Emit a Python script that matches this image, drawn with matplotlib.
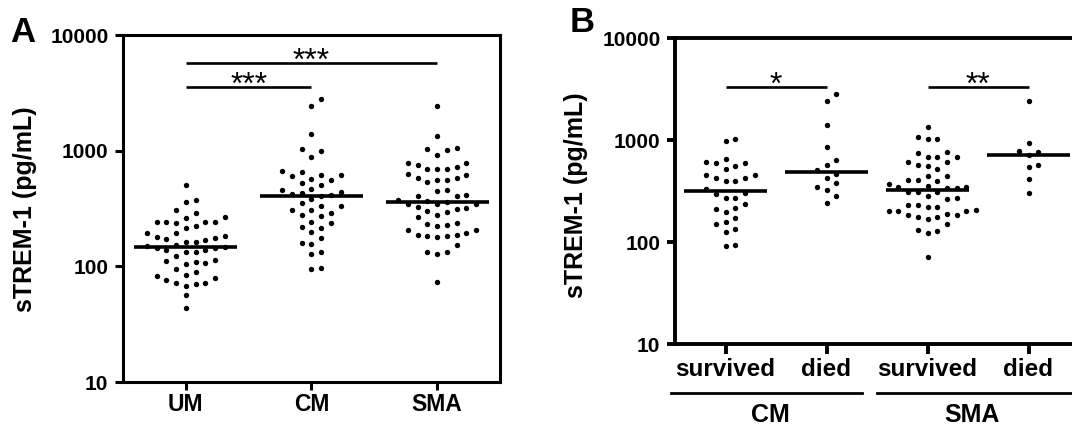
import numpy as np
import matplotlib.pyplot as plt
from matplotlib.ticker import NullLocator

plt.rcParams['font.family'] = ['Liberation Sans', 'DejaVu Sans']
plt.rcParams['font.weight'] = 'bold'

# %% data, sTREM-1 in pg/mL
groups_a = ['UM', 'CM', 'SMA']
um = [509, 373, 358, 290, 264, 267, 305, 242, 241, 225, 213, 237, 242, 242, 196,
      184, 176, 170, 174, 181, 194, 163, 149, 145, 139, 138, 144, 147, 153, 163,
      133, 133, 124, 107, 114, 110, 111, 104, 95, 89, 84, 79, 72, 68, 70, 72, 76,
      82, 56, 44]
cm = [2810, 2427, 1390, 995, 1030, 873, 651, 610, 574, 601, 618, 668, 563, 506,
      530, 467, 455, 431, 414, 385, 406, 426, 440, 333, 307, 278, 305, 331, 353,
      292, 275, 244, 237, 213, 219, 197, 175, 160, 155, 133, 127, 95.5, 97]
sma = [2443, 1336, 1065, 1023, 1037, 920, 790, 754, 696, 692, 696, 724, 775, 626,
       586, 563, 533, 563, 578, 618, 449, 455, 414, 409, 378, 358, 349, 349, 349,
       366, 404, 318, 301, 278, 294, 313, 326, 267, 237, 226, 222, 234, 208, 205,
       187, 182, 179, 182, 187, 193, 153, 132, 129, 133, 73]
sig_a = [(0, 1, 3566, '***'), (0, 2, 5757, '***')]

outcomes_b = ['survived', 'died', 'survived', 'died']
cm_survived = [991, 1023, 613, 595, 656, 520, 560, 599, 460, 430, 402, 401, 424,
               454, 333, 297, 270, 271, 302, 237, 211, 198, 215, 159, 172, 151,
               134, 127, 92, 95]
cm_died = [2826, 2427, 1403, 865, 645, 572, 508, 471, 430, 379, 351, 326, 286, 241]
sma_survived = [1341, 1023, 1023, 1069, 690, 617, 768, 690, 756, 681, 573, 527,
                556, 617, 447, 447, 408, 373, 346, 346, 340, 340, 359, 402, 408,
                311, 309, 311, 272, 284, 264, 204, 204, 232, 223, 220, 207, 231,
                184, 176, 171, 176, 184, 190, 203, 150, 130, 124, 132, 72]
sma_died = [2444, 935, 768, 722, 780, 552, 569, 415, 302]
sig_b = [(0, 1, 3355, '*'), (2, 3, 3355, '**')]
disease_b = ['CM', 'SMA']


# %% helpers
def swarm_x(ax, xpos, vals, step=9.7, gap=9.5):
    # column scatter like prism: dots stacked into columns step px apart
    pts = ax.transData.transform(np.column_stack([np.full(len(vals), xpos), vals]))
    ys = pts[:, 1]
    cols = np.zeros(len(vals))
    placed = []
    for i in np.argsort(ys):
        for k in [0, 1, -1, 2, -2, 3, -3, 4, -4, 5, -5, 6, -6, 7, -7]:
            if not any(c == k and abs(y - ys[i]) < gap for c, y in placed):
                break
        cols[i] = k
        placed.append((k, ys[i]))
    disp = np.column_stack([pts[:, 0] + cols * step, ys])
    return ax.transData.inverted().transform(disp)[:, 0]


def setup(ax, labels, lw):
    ax.set_yscale('log')
    ax.set_ylim(10, 10000)
    ax.set_xlim(-0.5, len(labels) - 0.5)
    ax.set_yticks([10, 100, 1000, 10000])
    ax.set_yticklabels(['10', '100', '1000', '10000'])
    ax.yaxis.set_minor_locator(NullLocator())
    ax.set_xticks(range(len(labels)))
    ax.set_xticklabels(labels)
    for s in ax.spines.values():
        s.set_linewidth(lw)
    ax.tick_params(axis='y', length=5.5, width=lw, pad=5, labelsize=15)


def draw_groups(ax, data, half):
    for i, vals in enumerate(data):
        xs = swarm_x(ax, i, vals)
        ax.scatter(xs, vals, s=15, color='black', linewidths=0, zorder=3)
        ax.hlines(np.median(vals), i - half, i + half, color='black', lw=2.6, zorder=4)


def draw_sig(ax, sigs):
    for a, b, y, stars in sigs:
        ax.plot([a, b], [y, y], color='black', lw=1.9, solid_capstyle='butt')
        ax.annotate(stars, xy=((a + b) / 2, y), xytext=(0, -5),
                    textcoords='offset points', ha='center', va='baseline',
                    fontsize=23, fontweight='normal')


fig = plt.figure(figsize=(10.72, 4.28), dpi=100)

# %% panel A
ax_a = fig.add_axes([123 / 1072, 46 / 428, 377 / 1072, 347 / 428])
setup(ax_a, groups_a, 2.2)
ax_a.tick_params(axis='x', length=6, width=2.2, pad=2, labelsize=16.5)
draw_groups(ax_a, [um, cm, sma], 0.41)
draw_sig(ax_a, sig_a)
fig.text(25 / 1072, 1 - 209 / 428, 'sTREM-1 (pg/mL)', rotation=90,
         ha='center', va='center', fontsize=18)
fig.text(23 / 1072, 1 - 33 / 428, 'A', ha='center', va='center', fontsize=25)

# %% panel B (right edge runs off the canvas like in the source)
ax_b = fig.add_axes([675 / 1072, (428 - 344.3) / 428, 404 / 1072, 306 / 428])
setup(ax_b, outcomes_b, 2.8)
ax_b.tick_params(axis='x', length=7.5, width=2.8, pad=2.5, labelsize=17.5)
draw_groups(ax_b, [cm_survived, cm_died, sma_survived, sma_died], 0.415)
draw_sig(ax_b, sig_b)
trans = ax_b.get_xaxis_transform()
for (x0, x1, xc), name in zip([(-0.54, 1.35, 0.44), (1.5, 3.6, 2.44)], disease_b):
    ax_b.plot([x0, x1], [-0.159, -0.159], transform=trans, clip_on=False,
              color='black', lw=2)
    ax_b.text(xc, -0.232, name, transform=trans, ha='center', va='center',
              fontsize=18)
fig.text(576 / 1072, 1 - 195 / 428, 'sTREM-1 (pg/mL)', rotation=90,
         ha='center', va='center', fontsize=18)
fig.text(582 / 1072, 1 - 22.5 / 428, 'B', ha='center', va='center', fontsize=25)

fig.savefig('out.png', dpi=100)
